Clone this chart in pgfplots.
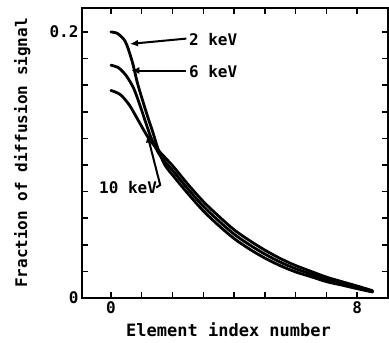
\documentclass[border=0pt]{standalone}
\usepackage{pgfplots}
\pgfplotsset{compat=1.18}
\usepackage{fontspec}
\setmainfont{DejaVu Sans Mono}
\usetikzlibrary{arrows.meta}
\begin{document}
\begin{tikzpicture}[font=\fontsize{16}{18}\selectfont\bfseries]
\begin{axis}[
  scale only axis, width=306pt, height=290pt,
  xmin=-0.94, xmax=9.0, ymin=0, ymax=0.218,
  xtick={0,1,2,3,4,5,6,7,8},
  xticklabels={0,{},{},{},{},{},{},{},8},
  ytick={0,0.02,0.04,0.06,0.08,0.1,0.12,0.14,0.16,0.18,0.2},
  yticklabels={0,{},{},{},{},{},{},{},{},{},0.2},
  /pgf/number format/assume math mode=true,
  tick align=inside, tick pos=both, ticklabel pos=left,
  major tick length=6pt,
  every tick/.style={line width=1.5pt, black},
  axis line style={line width=2pt},
  xlabel={Element index number},
  ylabel={Fraction of diffusion signal},
  xlabel style={at={(rel axis cs:0.479,-0.11)}, anchor=center, font=\fontsize{17}{19}\selectfont\bfseries},
  ylabel style={at={(rel axis cs:-0.195,0.5)}, anchor=center, rotate=0},
  clip=false,
]
\addplot[black, line width=2.8pt, smooth, line cap=round] coordinates {
(0,0.200) (0.2,0.199) (0.4,0.195) (0.52,0.190) (0.7,0.177) (0.88,0.160) (1.17,0.138) (1.37,0.124) (1.53,0.112) (1.75,0.100) (2,0.0925) (2.5,0.0785) (3,0.0655) (3.5,0.0545) (4,0.0447) (4.5,0.0368) (5,0.0300) (5.5,0.0243) (6,0.0196) (6.5,0.016) (7,0.0123) (7.5,0.0097) (8,0.0070) (8.5,0.0045)};
\addplot[black, line width=2.8pt, smooth, line cap=round] coordinates {
(0,0.175) (0.25,0.173) (0.5,0.167) (0.75,0.157) (1.0,0.141) (1.1,0.134) (1.33,0.119) (1.6,0.107) (2,0.096) (2.5,0.082) (3,0.069) (3.5,0.058) (4,0.048) (4.5,0.040) (5,0.033) (5.5,0.027) (6,0.022) (6.5,0.018) (7,0.014) (7.5,0.011) (8,0.008) (8.5,0.005)};
\addplot[black, line width=2.8pt, smooth, line cap=round] coordinates {
(0,0.156) (0.3,0.153) (0.6,0.145) (0.9,0.133) (1.2,0.121) (1.5,0.112) (2,0.0995) (2.5,0.0855) (3,0.0725) (3.5,0.0615) (4,0.0513) (4.5,0.0432) (5,0.0360) (5.5,0.0297) (6,0.0244) (6.5,0.020) (7,0.0157) (7.5,0.0123) (8,0.0090) (8.5,0.0055)};
\draw[line width=2pt, -{Latex[length=8pt,width=7pt]}] (axis cs:2.45,0.195) -- (axis cs:0.62,0.191);
\draw[line width=2pt, -{Latex[length=8pt,width=7pt]}] (axis cs:2.45,0.171) -- (axis cs:0.66,0.171);
\node[anchor=west, inner sep=1pt] at (axis cs:2.5,0.194) {2 keV};
\node[anchor=west, inner sep=1pt] at (axis cs:2.5,0.170) {6 keV};
\node[anchor=west, inner sep=1pt] at (axis cs:-0.42,0.083) {10 keV};
\draw[line width=2pt, -{Latex[length=8pt,width=7pt]}] (axis cs:1.47,0.083) -- (axis cs:1.6,0.085) -- (axis cs:1.18,0.123);
\coordinate (bl) at (rel axis cs:0,0);
\coordinate (tr) at (rel axis cs:1,1);
\end{axis}
\pgfresetboundingbox
\path ([xshift=-82pt,yshift=-45pt]bl) rectangle ([xshift=1pt,yshift=8pt]tr);
\end{tikzpicture}
\end{document}
